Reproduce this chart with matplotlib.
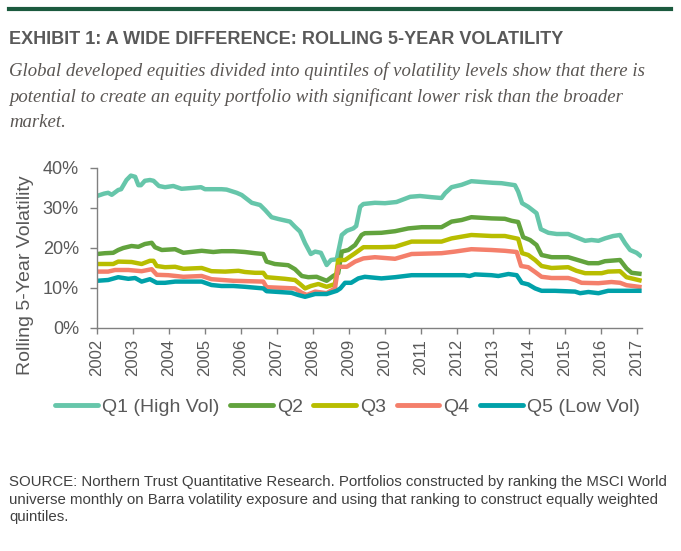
import matplotlib
matplotlib.use("Agg")
import matplotlib.pyplot as plt
from matplotlib.lines import Line2D

# ---------------- data (decimal year, volatility %) ----------------
q1_x = [2002.0, 2002.2, 2002.31, 2002.41, 2002.59, 2002.67, 2002.82, 2002.94, 2003.06, 2003.15,
        2003.22, 2003.33, 2003.47, 2003.57, 2003.72, 2003.89, 2004.12, 2004.35, 2004.63, 2004.89,
        2005.0, 2005.46, 2005.6, 2005.88, 2006.02, 2006.3, 2006.53, 2006.67, 2006.85, 2007.04,
        2007.36, 2007.5, 2007.64, 2007.78, 2007.94, 2008.06, 2008.22, 2008.38, 2008.5, 2008.66,
        2008.8, 2008.94, 2009.12, 2009.2, 2009.31, 2009.4, 2009.72, 2010.0, 2010.32, 2010.7,
        2010.97, 2011.3, 2011.57, 2011.67, 2011.85, 2012.13, 2012.4, 2012.69, 2013.0, 2013.24,
        2013.61, 2013.7, 2013.81, 2013.98, 2014.21, 2014.33, 2014.54, 2014.77, 2015.09, 2015.28,
        2015.56, 2015.74, 2015.93, 2016.11, 2016.34, 2016.53, 2016.67, 2016.81, 2016.99, 2017.13]
q1_y = [33.0, 33.6, 33.8, 33.3, 34.5, 34.7, 37.0, 38.1, 37.8, 35.7,
        35.7, 36.8, 37.0, 36.8, 35.5, 35.2, 35.5, 34.8, 35.0, 35.2,
        34.7, 34.7, 34.6, 33.8, 33.25, 31.3, 30.75, 29.5, 27.7, 27.25,
        26.6, 25.3, 24.1, 21.2, 18.5, 19.1, 18.8, 15.75, 17.0, 17.2,
        23.25, 24.3, 24.9, 25.5, 30.3, 31.0, 31.3, 31.2, 31.5, 32.8,
        33.0, 32.7, 32.5, 33.7, 35.2, 35.8, 36.7, 36.5, 36.3, 36.2,
        35.7, 34.1, 31.2, 30.3, 28.7, 24.7, 23.8, 23.5, 23.5, 22.8,
        21.8, 22.0, 21.8, 22.4, 23.0, 23.25, 21.2, 19.5, 18.8, 17.8]

q2_x = [2002.0, 2002.22, 2002.45, 2002.59, 2002.73, 2002.96, 2003.15, 2003.33, 2003.52, 2003.61,
        2003.8, 2004.17, 2004.4, 2004.91, 2005.23, 2005.46, 2005.79, 2006.11, 2006.39, 2006.62,
        2006.71, 2006.94, 2007.31, 2007.5, 2007.69, 2007.87, 2008.1, 2008.38, 2008.56, 2008.7,
        2008.8, 2008.98, 2009.17, 2009.35, 2009.44, 2009.9, 2010.28, 2010.65, 2011.02, 2011.57,
        2011.85, 2012.13, 2012.4, 2012.96, 2013.33, 2013.52, 2013.7, 2013.84, 2014.03, 2014.21,
        2014.35, 2014.63, 2015.09, 2015.28, 2015.65, 2015.93, 2016.11, 2016.53, 2016.71, 2016.85,
        2017.13]
q2_y = [18.5, 18.7, 18.8, 19.5, 20.0, 20.5, 20.3, 21.0, 21.3, 20.2,
        19.5, 19.7, 18.8, 19.3, 19.0, 19.2, 19.2, 19.0, 18.7, 18.5,
        16.6, 16.0, 15.7, 14.7, 13.0, 12.7, 12.8, 11.8, 13.0, 13.7,
        19.1, 19.5, 20.75, 23.25, 23.7, 23.8, 24.2, 24.9, 25.2, 25.2,
        26.6, 27.0, 27.7, 27.4, 27.3, 26.8, 26.5, 22.7, 22.0, 20.75,
        18.25, 17.7, 17.7, 17.2, 16.2, 16.2, 16.7, 17.0, 14.9, 13.8,
        13.5]

q3_x = [2002.0, 2002.45, 2002.59, 2002.96, 2003.24, 2003.47, 2003.57, 2003.66, 2003.89, 2004.17,
        2004.4, 2004.91, 2005.18, 2005.56, 2005.93, 2006.11, 2006.39, 2006.62, 2006.71, 2007.22,
        2007.5, 2007.64, 2007.78, 2007.94, 2008.15, 2008.38, 2008.61, 2008.7, 2008.89, 2009.17,
        2009.4, 2009.9, 2010.28, 2010.74, 2011.57, 2011.85, 2012.4, 2012.96, 2013.33, 2013.7,
        2013.81, 2013.98, 2014.17, 2014.35, 2014.63, 2015.09, 2015.32, 2015.56, 2016.02, 2016.2,
        2016.53, 2016.71, 2017.13]
q3_y = [16.0, 16.0, 16.6, 16.5, 16.0, 16.8, 16.8, 15.5, 15.2, 15.3,
        14.8, 15.0, 14.2, 14.1, 14.3, 14.0, 13.8, 13.8, 12.7, 12.3,
        12.0, 11.0, 9.9, 10.5, 11.0, 10.3, 11.0, 17.0, 17.0, 18.7,
        20.2, 20.2, 20.3, 21.6, 21.6, 22.4, 23.25, 23.0, 23.0, 22.3,
        18.7, 18.25, 17.0, 15.5, 15.0, 15.2, 14.3, 13.7, 13.7, 14.1,
        14.2, 12.7, 11.8]

q4_x = [2002.0, 2002.31, 2002.5, 2002.87, 2003.24, 2003.52, 2003.66, 2003.98, 2004.4, 2004.91,
        2005.18, 2005.79, 2006.62, 2006.71, 2007.5, 2007.69, 2007.83, 2008.06, 2008.38, 2008.61,
        2008.7, 2008.94, 2009.17, 2009.4, 2009.72, 2010.28, 2010.74, 2011.57, 2011.94, 2012.4,
        2012.96, 2013.33, 2013.66, 2013.78, 2013.98, 2014.17, 2014.35, 2014.63, 2015.09, 2015.28,
        2015.46, 2015.93, 2016.29, 2016.53, 2016.71, 2017.13]
q4_y = [14.1, 14.1, 14.5, 14.5, 14.2, 14.7, 13.3, 13.2, 12.8, 13.0,
        12.2, 11.8, 11.6, 10.2, 9.9, 8.8, 8.25, 9.1, 8.7, 9.9,
        15.3, 15.3, 16.6, 17.4, 17.7, 17.3, 18.5, 18.7, 19.1, 19.7,
        19.5, 19.3, 19.0, 15.5, 15.2, 14.0, 12.8, 12.5, 12.5, 12.0,
        11.3, 11.2, 11.5, 11.3, 10.7, 10.2]

q5_x = [2002.0, 2002.31, 2002.59, 2002.87, 2003.06, 2003.24, 2003.47, 2003.66, 2003.89, 2004.17,
        2004.91, 2005.18, 2005.46, 2005.79, 2006.11, 2006.62, 2006.71, 2007.4, 2007.59, 2007.78,
        2008.06, 2008.38, 2008.66, 2008.76, 2008.89, 2009.06, 2009.26, 2009.44, 2009.9, 2010.28,
        2010.74, 2012.2, 2012.35, 2012.5, 2012.96, 2013.15, 2013.43, 2013.66, 2013.8, 2013.98,
        2014.17, 2014.35, 2014.72, 2015.28, 2015.42, 2015.65, 2015.93, 2016.2, 2017.13]
q5_y = [11.8, 12.0, 12.7, 12.3, 12.5, 11.6, 12.2, 11.3, 11.3, 11.6,
        11.6, 10.75, 10.5, 10.5, 10.3, 9.9, 9.2, 8.8, 8.25, 7.8,
        8.5, 8.5, 9.3, 9.9, 11.3, 11.3, 12.4, 12.8, 12.4, 12.7,
        13.2, 13.2, 13.0, 13.4, 13.2, 13.0, 13.5, 13.2, 11.3, 10.9,
        9.9, 9.3, 9.3, 9.1, 8.7, 9.0, 8.7, 9.3, 9.3]

series_names = ["Q1 (High Vol)", "Q2", "Q3", "Q4", "Q5 (Low Vol)"]
series_colors = ["#66C6AA", "#62A33D", "#B8BD00", "#F47F6B", "#00A1A9"]
series_x = [q1_x, q2_x, q3_x, q4_x, q5_x]
series_y = [q1_y, q2_y, q3_y, q4_y, q5_y]

year_ticks = list(range(2002, 2018))
pct_ticks = [0, 10, 20, 30, 40]

title = "EXHIBIT 1: A WIDE DIFFERENCE: ROLLING 5-YEAR VOLATILITY"
subtitle_lines = [
    "Global developed equities divided into quintiles of volatility levels show that there is",
    "potential to create an equity portfolio with significant lower risk than the broader",
    "market.",
]
source_lines = [
    "SOURCE: Northern Trust Quantitative Research. Portfolios constructed by ranking the MSCI World",
    "universe monthly on Barra volatility exposure and using that ranking to construct equally weighted",
    "quintiles.",
]
y_label = "Rolling 5-Year Volatility"

# ---------------- layout ----------------
W, H = 681, 551
plt.rcParams["font.family"] = ["Liberation Sans", "DejaVu Sans"]
fig = plt.figure(figsize=(W / 100, H / 100), dpi=100)


def fx(px):
    return px / W


def fy(py):
    return 1 - py / H


GRAY = "#595959"
AXCOL = "#808080"

ax = fig.add_axes([fx(97), fy(328), fx(642) - fx(97), fy(168) - fy(328)])
for xs, ys, c in zip(series_x, series_y, series_colors):
    ax.plot(xs, ys, color=c, lw=3.2, solid_joinstyle="round", solid_capstyle="butt")

ax.set_xlim(2002, 2017.14)
ax.set_ylim(0, 40)
ax.set_xticks(year_ticks)
ax.set_xticklabels([str(y) for y in year_ticks], rotation=90)
ax.set_yticks(pct_ticks)
ax.set_yticklabels([f"{p}%" for p in pct_ticks])
for s in ["top", "right"]:
    ax.spines[s].set_visible(False)
for s in ["left", "bottom"]:
    ax.spines[s].set_color(AXCOL)
    ax.spines[s].set_linewidth(1.0)
ax.tick_params(axis="y", direction="out", length=5, width=1, color=AXCOL,
               labelcolor=GRAY, labelsize=13, pad=8)
ax.tick_params(axis="x", direction="out", length=4, width=1, color=AXCOL,
               labelcolor=GRAY, labelsize=12, pad=4)

fig.text(fx(26), fy(275), y_label, rotation=90, ha="center", va="center",
         fontsize=14, color=GRAY)

handles = [Line2D([], [], color=c, lw=3.5, solid_capstyle="round") for c in series_colors]
fig.legend(handles, series_names, loc="center", bbox_to_anchor=(fx(347.5), fy(407)),
           ncol=5, frameon=False, fontsize=14, handlelength=2.2, handletextpad=0.2,
           columnspacing=0.55, labelcolor=GRAY, borderaxespad=0, borderpad=0)

# top rule
fig.add_artist(Line2D([fx(9), fx(671)], [fy(9), fy(9)], lw=3.0, color="#1B5A3E",
                      transform=fig.transFigure))

fig.text(fx(9), fy(40), title, fontsize=13, fontweight="bold", color=GRAY,
         ha="left", va="center")

for line, yy in zip(subtitle_lines, [71, 97, 123]):
    fig.text(fx(9), fy(yy), line, fontsize=13.5, style="italic", color="#5A5653",
             family=["Liberation Serif", "DejaVu Serif"], ha="left", va="center")

for line, yy in zip(source_lines, [482, 500, 517]):
    fig.text(fx(9), fy(yy), line, fontsize=10.8, color="#404040", ha="left", va="center")

fig.savefig("out.png", dpi=100)
